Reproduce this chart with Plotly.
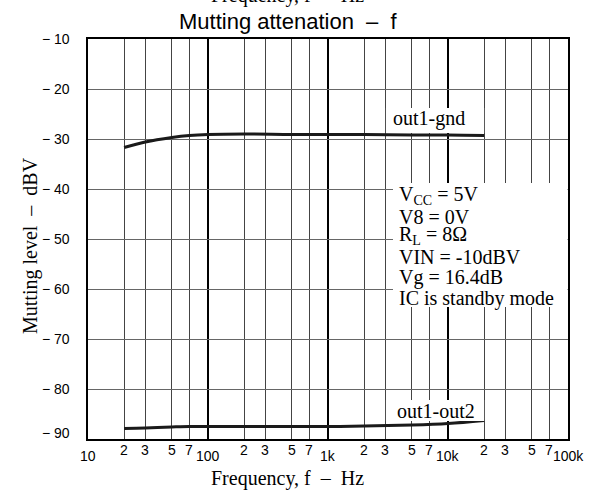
import math
import plotly.graph_objects as go

freq = [20, 30, 50, 70, 100, 200, 500, 1000, 2000, 5000, 10000, 20000]
out1_gnd = [-31.7, -30.6, -29.7, -29.3, -29.1, -29.0, -29.1, -29.1, -29.1, -29.2, -29.2, -29.3]
out1_out2 = [-87.9, -87.8, -87.6, -87.5, -87.5, -87.5, -87.5, -87.5, -87.4, -87.2, -86.9, -86.3]

decades = [10, 100, 1000, 10000, 100000]
decade_labels = ["10", "100", "1k", "10k", "100k"]
minor_steps = [2, 3, 5, 7]
minor_freqs = [m * d for d in decades[:-1] for m in minor_steps]
y_ticks = [-10, -20, -30, -40, -50, -60, -70, -80, -90]

conditions = ["V<sub>CC</sub> = 5V", "V8 = 0V", "R<sub>L</sub> = 8Ω",
              "VIN = -10dBV", "Vg = 16.4dB", "IC is standby mode"]
cond_y = [-41.3, -45.6, -49.3, -53.6, -57.6, -61.8]

SERIF = "Liberation Serif, Times New Roman, serif"
SANS = "Liberation Sans, Arial, sans-serif"

fig = go.Figure()

for ys in (out1_gnd, out1_out2):
    fig.add_trace(go.Scatter(x=freq, y=ys, mode="lines", line_shape="spline",
                             line=dict(color="#1a1a1a", width=3),
                             showlegend=False, hoverinfo="skip"))

# white boxes that hide the grid behind the labels
fig.add_shape(type="rect", xref="x", yref="y", x0=3040, x1=20000, y0=-28.8, y1=-23.8,
              fillcolor="white", line_width=0, layer="above")
fig.add_shape(type="rect", xref="x", yref="y", x0=3040, x1=20000, y0=-86.4, y1=-82.2,
              fillcolor="white", line_width=0, layer="above")
fig.add_shape(type="rect", xref="x", yref="y", x0=3480, x1=99000, y0=-63.6, y1=-38.8,
              fillcolor="white", line_width=0, layer="above")

fig.add_annotation(x=3.842, y=-25.8, xref="x", yref="y", text="out1-gnd", showarrow=False,
                   font=dict(family=SERIF, size=20, color="black"))
fig.add_annotation(x=3.9, y=-84.4, xref="x", yref="y", text="out1-out2", showarrow=False,
                   font=dict(family=SERIF, size=20, color="black"))

for txt, yv in zip(conditions, cond_y):
    fig.add_annotation(x=3.575, y=yv, xref="x", yref="y", text=txt, showarrow=False,
                       xanchor="left", font=dict(family=SERIF, size=20, color="black"))

# x tick labels
for d, lab in zip(decades, decade_labels):
    fig.add_annotation(x=math.log10(d), y=0, xref="x", yref="paper", text=lab,
                       showarrow=False, yanchor="middle", yshift=-17,
                       font=dict(family=SANS, size=14, color="black"))
for f in minor_freqs:
    fig.add_annotation(x=math.log10(f), y=0, xref="x", yref="paper", text=str(f)[0],
                       showarrow=False, yanchor="middle", yshift=-11,
                       font=dict(family=SANS, size=14, color="black"))

# y tick labels
for v in y_ticks:
    fig.add_annotation(x=0, y=v, xref="paper", yref="y", text="− " + str(abs(v)),
                       showarrow=False, xanchor="right", xshift=-16,
                       yshift=6 if v == -90 else 0,
                       font=dict(family=SANS, size=14, color="black"))

fig.add_annotation(x=0.4146, y=0, xref="paper", yref="paper", text="Frequency, f  –  Hz",
                   showarrow=False, yanchor="middle", yshift=-39,
                   font=dict(family=SERIF, size=20, color="black"))
fig.add_annotation(x=0.4146, y=1, xref="paper", yref="paper", text="Frequency, f  –  Hz",
                   showarrow=False, yanchor="middle", yshift=44,
                   font=dict(family=SERIF, size=20, color="black"))
fig.add_annotation(x=0, y=0.4825, xref="paper", yref="paper", text="Mutting level  –  dBV",
                   showarrow=False, textangle=-90, xanchor="center", xshift=-58,
                   font=dict(family=SERIF, size=20, color="black"))
fig.add_annotation(x=0.4167, y=1, xref="paper", yref="paper", text="Mutting attenation  –  f",
                   showarrow=False, yanchor="middle", yshift=18,
                   font=dict(family=SANS, size=22, color="black"))

fig.update_xaxes(type="log", range=[1, 5], tickmode="array", tickvals=decades,
                 showticklabels=False, ticks="", showgrid=True, gridcolor="black", gridwidth=2,
                 minor=dict(tickmode="array", tickvals=minor_freqs, showgrid=True,
                            gridcolor="#444444", gridwidth=1, ticks=""),
                 showline=True, linecolor="black", linewidth=2, mirror=True, zeroline=False)
fig.update_yaxes(range=[-90, -10], tickmode="array", tickvals=y_ticks, showticklabels=False,
                 ticks="", showgrid=True, gridcolor="#666666", gridwidth=1,
                 showline=True, linecolor="black", linewidth=2, mirror=True, zeroline=False)

fig.update_layout(width=595, height=490, margin=dict(l=88, r=27, t=39, b=51),
                  plot_bgcolor="white", paper_bgcolor="white")

fig.write_html("out.html", config={"displayModeBar": False},
               post_script="document.body.style.margin='0';")
